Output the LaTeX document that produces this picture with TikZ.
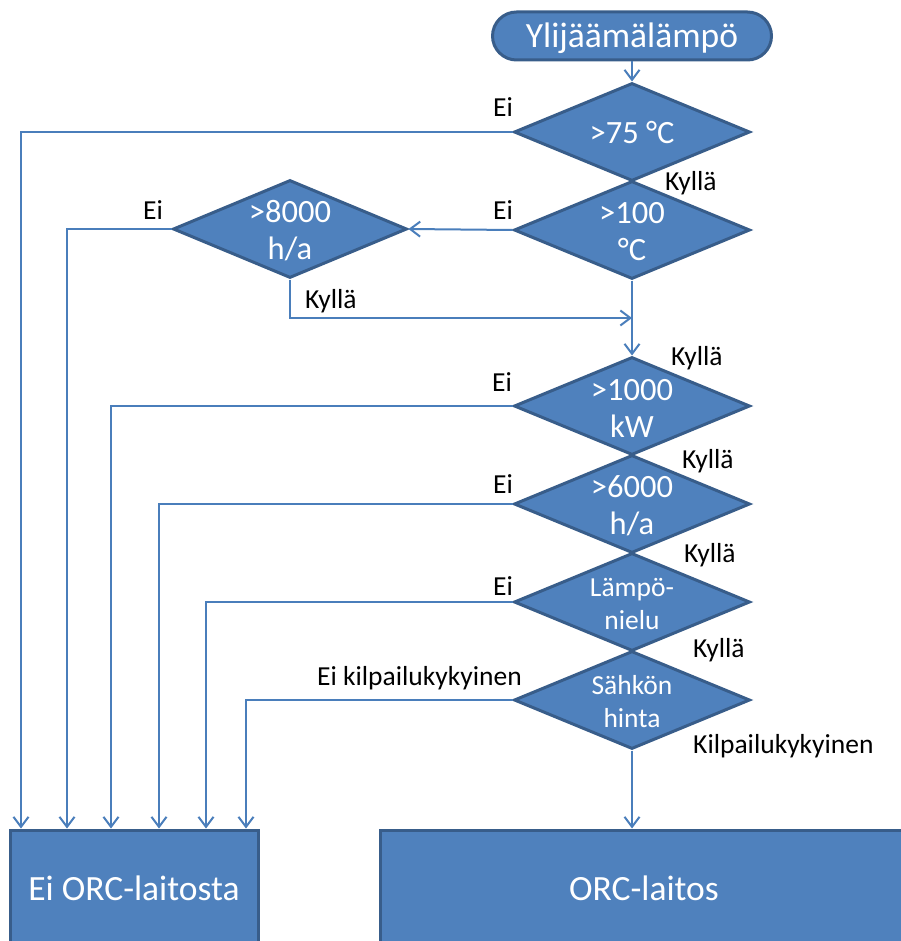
\documentclass[tikz,border=0pt]{standalone}
\usepackage{fontspec}
\setmainfont{Carlito}
\usetikzlibrary{shapes.geometric,arrows.meta}
\definecolor{fillb}{HTML}{4F81BD}
\definecolor{edgeb}{HTML}{385D8A}
\definecolor{lineb}{HTML}{4A7EBB}
\begin{document}
\begin{tikzpicture}[x=1pt,y=-1pt,
  dia/.style={diamond,draw=edgeb,fill=fillb,line width=3pt,minimum width=236pt,minimum height=98pt,inner sep=0pt},
  dtxt/.style={text=white,align=center,inner sep=0pt,font=\fontsize{32.5}{37}\selectfont},
  dtxts/.style={text=white,align=center,inner sep=0pt,font=\fontsize{27.5}{33}\selectfont},
  boxb/.style={rectangle,draw=edgeb,fill=fillb,line width=3pt,inner sep=0pt},
  btxt/.style={text=white,inner sep=0pt,font=\fontsize{35.5}{42}\selectfont},
  lbl/.style={text=black,inner sep=0pt,font=\fontsize{27.5}{32}\selectfont},
  conn/.style={draw=lineb,line width=2pt},
  arr/.style={conn,-{Straight Barb[length=10pt,width=15pt]}}
]
\useasboundingbox (0,0) rectangle (900,941);

% start
\node[boxb,rounded corners=24pt,minimum width=279pt,minimum height=48pt] (start) at (632,36) {};
\node[btxt] (starttxt) at (632,38) {Ylijäämälämpö};

% diamonds
\node[dia] (d1) at (632,132) {};
\node[dtxt] (t1) at (632,133) {>75 °C};
\node[dia] (d2) at (632,230) {};
\node[dtxt] (t2) at (632,232) {>100\\°C};
\node[dia,minimum width=234pt] (d3) at (290,229) {};
\node[dtxt] (t3) at (290,231) {>8000\\h/a};
\node[dia] (d4) at (632,406) {};
\node[dtxt] (t4) at (632,408) {>1000\\kW};
\node[dia] (d5) at (632,504) {};
\node[dtxt] (t5) at (632,506) {>6000\\h/a};
\node[dia] (d6) at (632,602) {};
\node[dtxts] (t6) at (632,604) {Lämpö-\\nielu};
\node[dia] (d7) at (632,700) {};
\node[dtxts] (t7) at (632,702) {Sähkön\\hinta};

% result boxes
\node[boxb,minimum width=248pt,minimum height=116pt] (lbox) at (134,888) {};
\node[btxt] (lboxtxt) at (134,888) {Ei ORC-laitosta};
\node[boxb,minimum width=528pt,minimum height=116pt] (rbox) at (644,888) {};
\node[btxt] (rboxtxt) at (644,888) {ORC-laitos};

% labels
\node[lbl,anchor=base west] (e1) at (493,117) {Ei};
\node[lbl,anchor=base west] (k1) at (665,191) {Kyllä};
\node[lbl,anchor=base west] (e2) at (493,220) {Ei};
\node[lbl,anchor=base west] (e3) at (143,219) {Ei};
\node[lbl,anchor=base west] (k3) at (305,308) {Kyllä};
\node[lbl,anchor=base west] (k4) at (671,365) {Kyllä};
\node[lbl,anchor=base west] (e4) at (492,391) {Ei};
\node[lbl,anchor=base west] (k5) at (682,468) {Kyllä};
\node[lbl,anchor=base west] (e5) at (493,493) {Ei};
\node[lbl,anchor=base west] (k6) at (684,562) {Kyllä};
\node[lbl,anchor=base west] (e6) at (493,595) {Ei};
\node[lbl,anchor=base west] (k7) at (693,657) {Kyllä};
\node[lbl,anchor=base west] (e7) at (317,685) {Ei kilpailukykyinen};
\node[lbl,anchor=base west] (kk) at (693,753) {Kilpailukykyinen};

% connectors
\coordinate (join) at (632,318);
\draw[arr] (start.south) -- (d1.north);
\draw[arr] (d1.west) -- (21,132) -- (21,0 |- lbox.north);
\draw[arr] (d2.west) -- (d3.east);
\draw[arr] (d3.west) -- (67,229) -- (67,0 |- lbox.north);
\draw[arr] (d3.south) -- (290,318) -- (join);
\draw[arr] (d2.south) -- (d4.north);
\draw[arr] (d4.west) -- (111,406) -- (111,0 |- lbox.north);
\draw[arr] (d5.west) -- (159,504) -- (159,0 |- lbox.north);
\draw[arr] (d6.west) -- (206,602) -- (206,0 |- lbox.north);
\draw[arr] (d7.west) -- (246,700) -- (246,0 |- lbox.north);
\draw[arr] (d7.south) -- (d7.south |- rbox.north);
\end{tikzpicture}
\end{document}
